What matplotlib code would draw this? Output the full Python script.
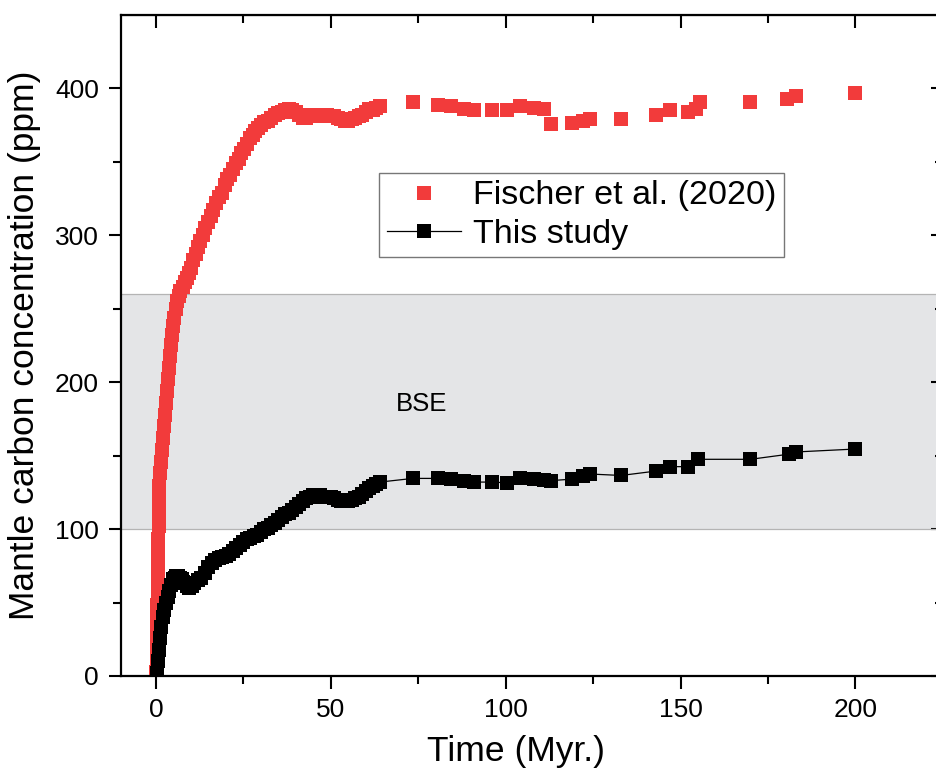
import numpy as np
import matplotlib
matplotlib.use("Agg")
import matplotlib.pyplot as plt

plt.rcParams['font.family'] = ['Liberation Sans', 'DejaVu Sans']

# Fischer et al. (2020): dense early part + sparse later points
fischer_t = [0.1, 0.15, 0.2, 0.25, 0.3, 0.4, 0.5, 0.55, 0.6, 0.65, 0.7, 0.8, 0.9, 0.95, 1.0, 1.1,
             1.3, 1.6, 1.9, 2.2, 2.5, 2.8, 3.1, 3.4, 3.7, 4.0, 4.3, 4.6, 4.9, 5.2, 5.6, 6.0, 6.5,
             7.0, 7.6, 8.2, 8.8, 9.4, 10.0, 10.7, 11.4, 12.0, 12.7, 13.4, 14.1, 14.8, 15.6, 16.4,
             17.2, 18.0, 18.8, 19.6, 20.4, 21.2, 22.0, 22.8, 23.6, 24.4, 25.2, 26.0, 26.8, 27.6,
             28.4, 29.2, 30.0, 31.0, 32.0, 33.0, 34.0, 35.0, 36.0, 37.0, 38.0, 39.0, 40.0, 41.0,
             42.0, 43.0, 44.0, 45.0, 46.0, 47.0, 48.0, 49.0, 50.0, 51.0, 52.0, 53.0, 54.0, 55.0,
             56.0, 57.0, 58.0, 59.0, 60.0, 61.0, 62.0, 63.0, 64.0,
             73.5, 80.5, 84.5, 88, 91, 96, 100.5, 104, 108, 111, 113, 119, 122, 124, 133, 143,
             147, 152, 154.5, 155.5, 170, 180.5, 183, 200]
fischer_c = [3, 12, 21, 30, 39, 48, 57, 66, 75, 84, 93, 102, 111, 120, 129, 138,
             146, 154, 162, 170, 178, 186, 194, 202, 210, 218, 225, 232, 238, 244, 250, 255, 259,
             262, 265, 268, 271, 274, 278, 283, 287, 292, 296, 300, 305, 309, 313, 317,
             322, 326, 329, 334, 338, 341, 345, 349, 352, 356, 359, 362, 366, 368,
             371, 373, 375, 377, 378, 380, 382, 383, 384, 385, 386, 385, 384, 382,
             380, 380, 381, 382, 382, 381, 382, 382, 381, 381, 380, 379, 378, 378,
             379, 380, 381, 382, 384, 386, 385, 387, 388,
             390.5, 389, 388, 386, 385, 385, 385, 388, 387, 386, 376, 376.5, 378, 379.5, 379.5, 382,
             385, 384, 386, 391, 391, 392.5, 395, 397]

# This study
study_t = [0.3, 0.6, 0.9, 1.2, 1.5, 1.9, 2.3, 2.8, 3.3, 3.8, 4.3, 4.8, 5.3, 5.8, 6.3, 6.8,
           7.3, 7.8, 8.3, 8.8, 9.5, 10.2, 11.0, 12.0, 13.0, 14.0, 15.0, 16.0, 17.0, 18.0, 19.0,
           20.0, 21.0, 22.0, 23.0, 24.0, 25.0, 26.0, 27.0, 28.0, 29.0, 30.0, 31.0, 32.0, 33.0,
           34.0, 35.0, 36.0, 37.0, 38.0, 39.0, 40.0, 41.0, 42.0, 43.0, 44.0, 45.0, 46.0, 47.0,
           48.0, 49.0, 50.0, 51.0, 52.0, 53.0, 54.0, 55.0, 56.0, 57.0, 58.0, 59.0, 60.0, 61.0,
           62.0, 63.0, 64.0,
           73.5, 80.5, 84.5, 88, 91, 96, 100.5, 104, 108, 111, 113, 119, 122, 124, 133, 143,
           147, 152, 155, 170, 181, 183, 200]
study_c = [2, 10, 18, 26, 33, 40, 45, 50, 54, 58, 62, 66, 67, 68, 68, 67,
           66, 64, 63, 61, 60, 61, 63, 65, 67, 70, 74, 77, 79, 80, 81,
           82, 83, 85, 87, 89, 91, 93, 94, 95, 96, 98, 100, 101, 103,
           104, 106, 108, 110, 111, 113, 115, 117, 119, 121, 122, 123, 123, 123,
           122, 122, 122, 121, 120, 119, 119, 119, 120, 121, 122, 124, 126, 128,
           129, 131, 132,
           134.5, 134.5, 134, 133, 132, 132, 131.5, 134.5, 134, 133.5, 133, 134, 136, 137.5,
           136.5, 139.5, 142.5, 142.5, 147.5, 147.5, 151, 152.5, 154.5]

bse_low, bse_high = 100, 260

fig = plt.figure(figsize=(9.36, 7.72), dpi=100)
ax = fig.add_axes([0.1293, 0.1244, 0.878, 0.8562])

ax.axhspan(bse_low, bse_high, facecolor='#e4e5e7', edgecolor='none', zorder=0)
ax.axhline(bse_low, color='#b4b4b4', lw=0.9, zorder=0.5)
ax.axhline(bse_high, color='#b4b4b4', lw=0.9, zorder=0.5)
ax.text(76, 185, 'BSE', fontsize=18.5, ha='center', va='center')

ax.plot(fischer_t, fischer_c, linestyle='none', marker='s', ms=10.5, mew=0,
        color='#f23b3b', label='Fischer et al. (2020)', zorder=2)
ax.plot(study_t, study_c, '-', color='black', lw=0.9, marker='s', ms=10, mew=0,
        label='This study', zorder=3)

ax.set_xlim(-10, 225)
ax.set_ylim(0, 450)
ax.set_xticks([0, 50, 100, 150, 200])
ax.set_xticks([25, 75, 125, 175], minor=True)
ax.set_yticks([0, 100, 200, 300, 400])
ax.set_yticks([50, 150, 250, 350], minor=True)

for s in ax.spines.values():
    s.set_linewidth(1.6)
ax.tick_params(which='both', direction='out', width=1.5, labelsize=19, pad=7,
               top=False, right=False)
ax.tick_params(which='major', length=9)
ax.tick_params(which='minor', length=5.5)

# inward ticks on the top and right spines
sec_x = ax.secondary_xaxis('top')
sec_x.set_xticks([0, 50, 100, 150, 200])
sec_x.set_xticks([25, 75, 125, 175], minor=True)
sec_x.tick_params(which='both', direction='in', width=1.5, labeltop=False)
sec_x.tick_params(which='major', length=9)
sec_x.tick_params(which='minor', length=5.5)
sec_y = ax.secondary_yaxis('right')
sec_y.set_yticks([0, 100, 200, 300, 400])
sec_y.set_yticks([50, 150, 250, 350], minor=True)
sec_y.tick_params(which='both', direction='in', width=1.5, labelright=False)
sec_y.tick_params(which='major', length=9)
sec_y.tick_params(which='minor', length=5.5)

ax.set_xlabel('Time (Myr.)', fontsize=25.5, labelpad=8)
ax.xaxis.set_label_coords(0.4805, -0.09, transform=ax.transAxes)
ax.set_ylabel('Mantle carbon concentration (ppm)', fontsize=25.5, labelpad=10)

leg = ax.legend(loc='upper left', bbox_to_anchor=(0.314, 0.761), borderaxespad=0,
                fontsize=24.5, frameon=True, fancybox=False, edgecolor='#555555',
                handlelength=2.2, handletextpad=0.35, labelspacing=0.22, borderpad=0.22)
leg.get_frame().set_linewidth(1.0)

fig.savefig('out.png', dpi=100)
